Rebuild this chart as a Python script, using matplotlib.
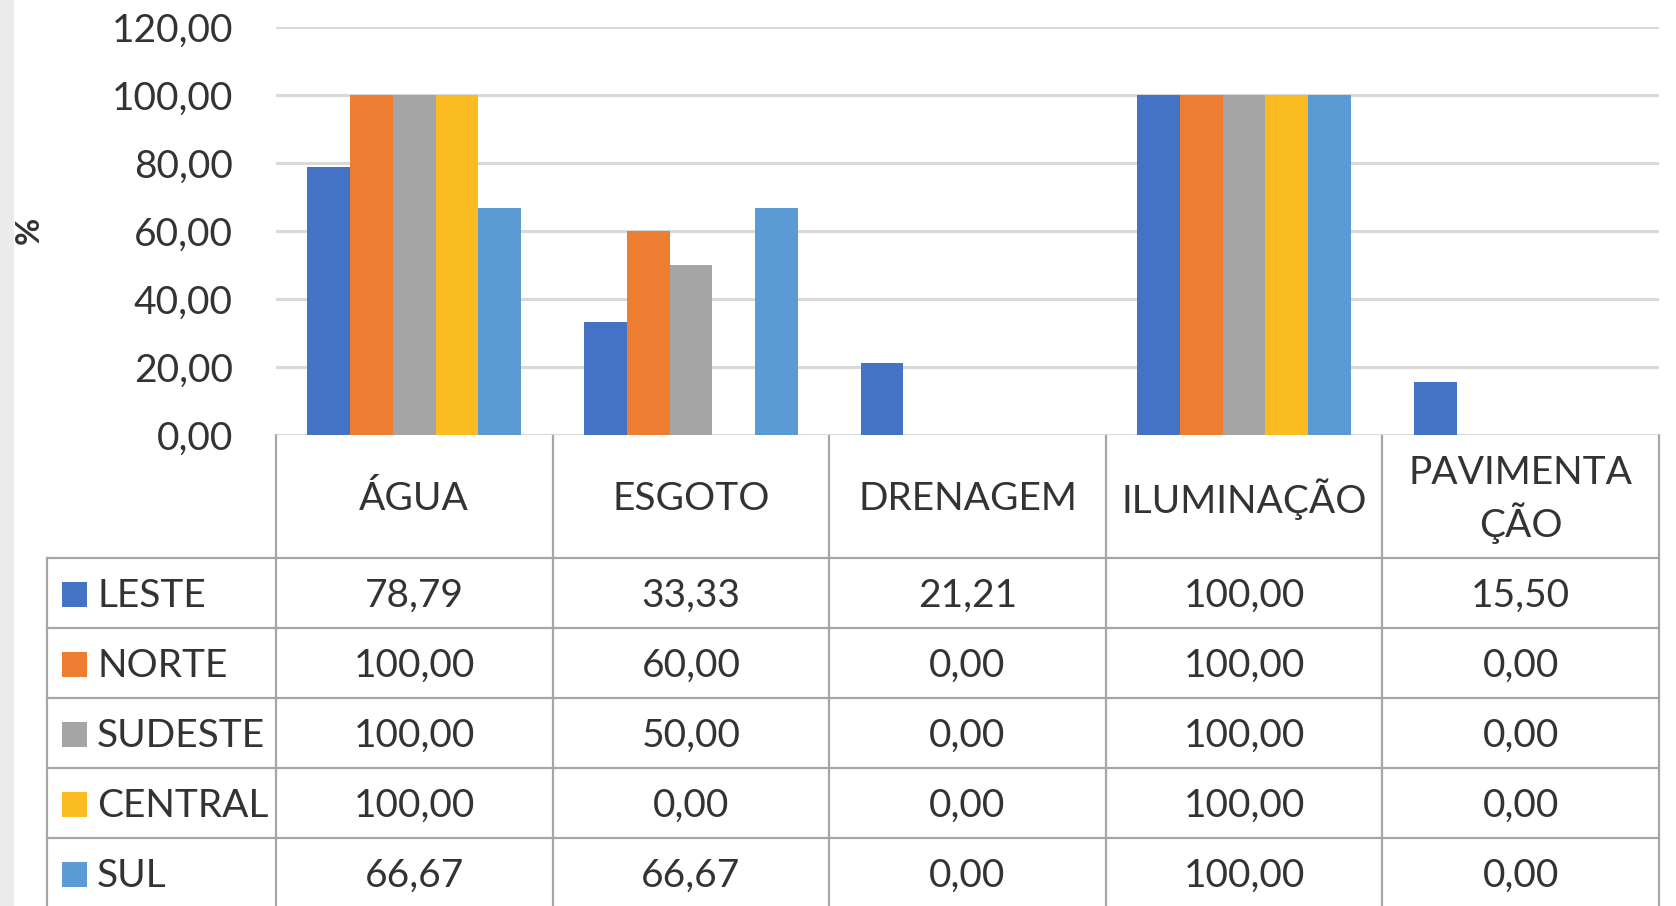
#!/usr/bin/env python3
"""
Infraestrutura por região: barras agrupadas com tabela de dados abaixo (estilo Excel)
"""
import numpy as np
import matplotlib
matplotlib.use("Agg")
import matplotlib.pyplot as plt
from matplotlib.patches import Rectangle

categories = ["ÁGUA", "ESGOTO", "DRENAGEM", "ILUMINAÇÃO", "PAVIMENTA\nÇÃO"]
regions = ["LESTE", "NORTE", "SUDESTE", "CENTRAL", "SUL"]
leste = [78.79, 33.33, 21.21, 100.00, 15.50]
norte = [100.00, 60.00, 0.00, 100.00, 0.00]
sudeste = [100.00, 50.00, 0.00, 100.00, 0.00]
central = [100.00, 0.00, 0.00, 100.00, 0.00]
sul = [66.67, 66.67, 0.00, 100.00, 0.00]
yticks = [0, 20, 40, 60, 80, 100, 120]

series = [leste, norte, sudeste, central, sul]
colors = ["#4472C4", "#ED7D31", "#A5A5A5", "#FBBC22", "#5B9BD5"]

W, H = 1676, 906
TXT = "#333333"
GRID = "#d9d9d9"
BORDER = "#a6a6a6"
FONT = "Lato"
FS = 28

# pixel layout
plot_left, plot_right = 276, 1659
plot_top, plot_bottom = 27, 435
header_bottom = 558
row_h = 70
legend_left = 47


def fmt(v):
    return f"{v:.2f}".replace(".", ",")


def main():
    plt.rcParams["font.family"] = [FONT, "DejaVu Sans"]
    fig = plt.figure(figsize=(W / 100, H / 100), dpi=100)
    fig.patch.set_facecolor("white")

    # overlay in pixel coords for the data table
    tab = fig.add_axes([0, 0, 1, 1])
    tab.set_xlim(0, W)
    tab.set_ylim(H, 0)
    tab.axis("off")
    tab.add_patch(Rectangle((0, 0), 14, H, color="#ebebeb", lw=0))

    ax = fig.add_axes([plot_left / W, 1 - plot_bottom / H,
                       (plot_right - plot_left) / W, (plot_bottom - plot_top) / H])
    ax.set_facecolor("none")
    n = len(categories)
    x = np.arange(n)
    bw = 0.1546
    for i, (vals, c) in enumerate(zip(series, colors)):
        ax.bar(x + (i - 2) * bw, vals, width=bw, color=c, zorder=3)
    ax.set_xlim(-0.5, n - 0.5)
    ax.set_ylim(0, 120)
    ax.set_yticks(yticks)
    ax.set_yticklabels([fmt(t) for t in yticks], fontsize=FS, color=TXT)
    ax.set_xticks([])
    ax.tick_params(axis="y", length=0, pad=31)
    ax.yaxis.grid(True, color=GRID, lw=2.2, zorder=0)
    ax.set_axisbelow(True)
    for s in ax.spines.values():
        s.set_visible(False)

    fig.text(29 / W, 1 - 230 / H, "%", rotation=90, ha="center", va="center",
             fontsize=24, fontweight="bold", color=TXT)

    # data table
    col_edges = np.linspace(plot_left, plot_right, n + 1)
    row_edges = header_bottom + row_h * np.arange(len(regions) + 1)
    lw = 1.6
    for xe in col_edges:
        tab.plot([xe, xe], [plot_bottom, H], color=BORDER, lw=lw)
    tab.plot([legend_left, legend_left], [header_bottom, H], color=BORDER, lw=lw)
    for ye in row_edges:
        tab.plot([legend_left, plot_right], [ye, ye], color=BORDER, lw=lw)

    for j, cat in enumerate(categories):
        cx = (col_edges[j] + col_edges[j + 1]) / 2
        tab.text(cx, (plot_bottom + header_bottom) / 2 + 3, cat, ha="center",
                 va="center", fontsize=FS, color=TXT, linespacing=1.3)

    for i, (name, vals, c) in enumerate(zip(regions, series, colors)):
        cy = (row_edges[i] + row_edges[i + 1]) / 2 + 3
        tab.add_patch(Rectangle((62, cy - 14), 25, 25, color=c, lw=0))
        tab.text(97, cy, name, ha="left", va="center", fontsize=FS, color=TXT)
        for j, v in enumerate(vals):
            cx = (col_edges[j] + col_edges[j + 1]) / 2
            tab.text(cx, cy, fmt(v), ha="center", va="center", fontsize=FS, color=TXT)

    fig.savefig("out.png", dpi=100)


if __name__ == '__main__':
    main()
